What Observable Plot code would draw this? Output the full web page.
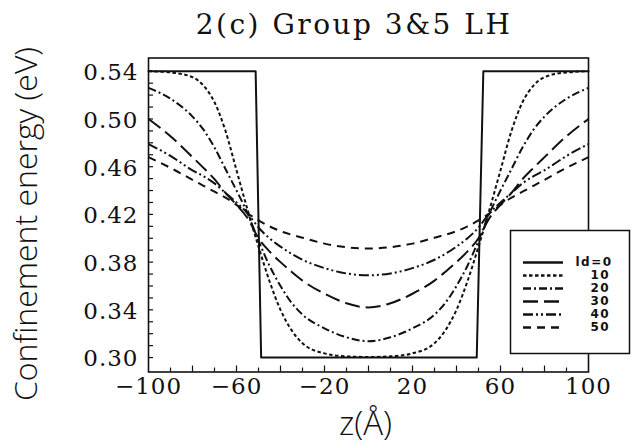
<!DOCTYPE html>
<html><head><meta charset="utf-8">
<script src="https://cdn.jsdelivr.net/npm/d3@7"></script>
<script src="https://cdn.jsdelivr.net/npm/@observablehq/plot@0.6"></script>
<style>
body{margin:0;background:#fff;}
#wrap{position:relative;width:639px;height:447px;overflow:hidden;background:#fff;}
#chart{position:absolute;left:0;top:0;}
#title{position:absolute;top:11px;left:0;width:708px;text-align:center;font-family:"DejaVu Serif";font-size:28px;line-height:28px;letter-spacing:2.5px;color:#111;white-space:nowrap;}
#legend{position:absolute;left:510px;top:230px;}
</style></head><body>
<div id="wrap"><div id="chart"></div><div id="title">2(c) Group 3&amp;5 LH</div><div id="legend"></div></div>
<script>
// ---- data ----
const titleText = "2(c) Group 3&5 LH";
const xLabel = "z(Å)";
const yLabel = "Confinement energy (eV)";
const xTickLabels = [-100, -60, -20, 20, 60, 100];
const yTickLabels = [0.30, 0.34, 0.38, 0.42, 0.46, 0.50, 0.54];
const xMinorTicks = [-90, -70, -50, -30, -10, 10, 30, 50, 70, 90];
const xMajorTicks = [-80, -60, -40, -20, 0, 20, 40, 60, 80];
const yMinorTicks = [0.30,0.31,0.32,0.33,0.34,0.35,0.36,0.37,0.38,0.39,0.40,0.41,0.42,0.43,0.44,0.45,0.46,0.47,0.48,0.49,0.50,0.51,0.52,0.53,0.54];

const zGrid = [-100,-90,-80,-75,-70,-65,-60,-55,-50,-45,-40,-35,-30,-20,-10,0,10,20,30,35,40,45,50,55,60,65,70,75,80,90,100];

// ld = 0 (abrupt well)
const stepZ = [-100, -51.3, -48.8, 49.2, 52.2, 100];
const stepE = [0.54, 0.54, 0.30, 0.30, 0.54, 0.54];

const ld10 = [0.540,0.539,0.535,0.528,0.514,0.490,0.457,0.424,0.393,0.364,0.340,0.323,0.312,0.3035,0.301,0.3005,0.301,0.3035,0.312,0.323,0.340,0.364,0.393,0.424,0.457,0.490,0.514,0.528,0.535,0.539,0.540];
const ld20 = [0.526,0.517,0.502,0.491,0.476,0.458,0.440,0.421,0.398,0.377,0.360,0.346,0.336,0.3245,0.317,0.3137,0.317,0.3245,0.336,0.346,0.360,0.377,0.398,0.421,0.440,0.458,0.476,0.491,0.502,0.517,0.526];
const ld30 = [0.500,0.4855,0.468,0.459,0.4495,0.438,0.428,0.417,0.400,0.389,0.380,0.372,0.3645,0.3535,0.3455,0.342,0.3455,0.3535,0.3645,0.372,0.380,0.389,0.400,0.417,0.428,0.438,0.4495,0.459,0.468,0.4855,0.500];
const ld40 = [0.479,0.469,0.457,0.452,0.446,0.438,0.430,0.421,0.409,0.400,0.393,0.387,0.382,0.375,0.3705,0.369,0.3705,0.375,0.382,0.387,0.393,0.400,0.409,0.421,0.430,0.438,0.446,0.452,0.457,0.469,0.479];
const ld50 = [0.468,0.459,0.449,0.444,0.439,0.434,0.428,0.421,0.415,0.410,0.406,0.403,0.4005,0.3955,0.3925,0.3914,0.3925,0.3955,0.4005,0.403,0.406,0.410,0.415,0.421,0.428,0.434,0.439,0.444,0.449,0.459,0.468];

const legendLabels = ["ld=0", "10", "20", "30", "40", "50"];
const dashes = [null, "3.5,2.5", "8,3,2,3", "15,6", "10,3,2,3,2,3", "8,6"];

// ---- build ----
const W = 639, H = 447, mL = 148, mR = 51, mT = 57.5, mB = 75.5;
const frameW = W - mL - mR, frameH = H - mT - mB;
const INK = "#111";

const curveSets = [ld10, ld20, ld30, ld40, ld50];
const curveMarks = curveSets.map((vals, i) =>
  Plot.line(zGrid.map((z, j) => ({z, e: vals[j]})), {
    x: "z", y: "e", stroke: INK, strokeWidth: 2, curve: "monotone-x",
    strokeDasharray: dashes[i + 1], strokeLinecap: "butt"
  })
);

const fmtX = d => d < 0 ? "\u2212" + Math.abs(d) : String(d);

const chart = Plot.plot({
  width: W, height: H,
  marginLeft: mL, marginRight: mR, marginTop: mT, marginBottom: mB,
  x: {domain: [-100, 100]},
  y: {domain: [0.2879, 0.5511]},
  style: {background: "#fff", color: INK, fontFamily: "DejaVu Serif"},
  marks: [
    Plot.frame({stroke: INK, strokeWidth: 1.6}),
    Plot.tickX(xMinorTicks, {x: d => d, insetTop: frameH - 4, stroke: INK, strokeWidth: 1.2}),
    Plot.tickX(xMajorTicks, {x: d => d, insetTop: frameH - 6, stroke: INK, strokeWidth: 1.2}),
    Plot.tickY(yMinorTicks, {y: d => d, insetRight: frameW - 5, stroke: INK, strokeWidth: 1.2}),
    Plot.axisX({ticks: xTickLabels, tickSize: 0, tickPadding: 6, tickFormat: fmtX, fontSize: 23, fontFamily: "DejaVu Serif", label: null}),
    Plot.axisY({ticks: yTickLabels, tickSize: 0, tickPadding: 10, dy: 1.5, tickFormat: d => d.toFixed(2), fontSize: 23, fontFamily: "DejaVu Serif", label: null}),
    Plot.line(stepZ.map((z, i) => ({z, e: stepE[i]})), {x: "z", y: "e", stroke: INK, strokeWidth: 2}),
    ...curveMarks,
    Plot.text([xLabel], {text: d => d, frameAnchor: "bottom", textAnchor: "middle", lineAnchor: "middle", dy: 52, dx: -3, fontSize: 33, fontFamily: "Open Sans", fontWeight: 300, fill: INK}),
    Plot.text([yLabel], {text: d => d, frameAnchor: "left", textAnchor: "middle", rotate: -90, lineAnchor: "middle", dx: -122, dy: 9, fontSize: 32, fontFamily: "Open Sans", fontWeight: 300, fill: INK})
  ]
});
d3.select(chart).selectAll('g[aria-label="x-axis tick label"] text, g[aria-label="y-axis tick label"] text').style("letter-spacing", "1px");
document.getElementById("chart").appendChild(chart);

// legend
const legend = Plot.plot({
  width: 119, height: 123, margin: 0,
  x: {domain: [0, 1], range: [13, 53], axis: null},
  y: {type: "point", domain: legendLabels, range: [23.3, 105], axis: null},
  style: {background: "#fff", color: INK, overflow: "visible"},
  marks: [
    Plot.frame({stroke: INK, strokeWidth: 1.5, fill: "#fff"}),
    ...legendLabels.map((l, i) => Plot.ruleY([l], {y: d => d, x1: 0, x2: 1, stroke: INK, strokeWidth: 2.5, strokeDasharray: dashes[i]})),
    Plot.text(legendLabels.slice(0, 1), {y: d => d, x: 1, text: d => d, dx: 12, textAnchor: "start", fontSize: 12, fontWeight: "bold", fontFamily: "DejaVu Sans", fill: INK}),
    Plot.text(legendLabels.slice(1), {y: d => d, x: 1, text: d => d, dx: 27, textAnchor: "start", fontSize: 12, fontWeight: "bold", fontFamily: "DejaVu Sans", fill: INK})
  ]
});
d3.select(legend).selectAll("text").style("letter-spacing", "1.5px");
document.getElementById("legend").appendChild(legend);
document.getElementById("title").textContent = titleText;
</script>
</body></html>
